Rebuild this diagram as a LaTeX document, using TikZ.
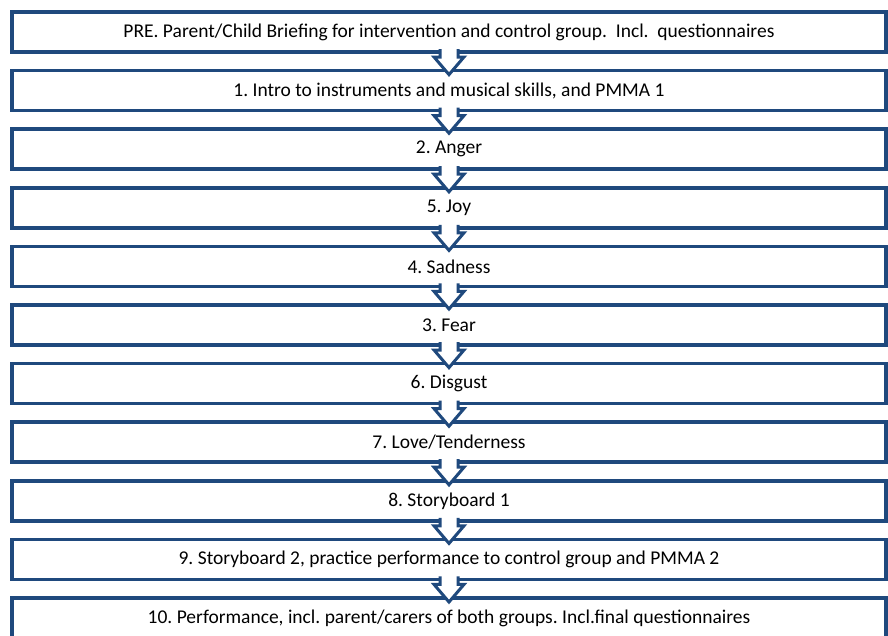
\documentclass[tikz,border=0pt]{standalone}
\usepackage{fontspec}
\setmainfont{Carlito}
\usetikzlibrary{calc}
\definecolor{boxblue}{RGB}{31,73,125}
\tikzset{
  stagebox/.style={draw=boxblue, line width=3.5pt, fill=white, minimum width=874pt, minimum height=40pt, inner sep=0pt, outer sep=0pt, font=\fontsize{19.5pt}{22pt}\selectfont\frenchspacing, text=black, anchor=north west},
  downarrow/.style={draw=boxblue, line width=3pt, fill=white, line join=miter}
}
\newcommand{\flowarrow}[2]{%
  \path[downarrow] ($(#1.south)+(-9,-3)$) -- ($(#1.south)+(-9,5)$) -- ($(#1.south)+(-15,5)$)
    -- ($(#2.north)+(0,4)$) -- ($(#1.south)+(15,5)$) -- ($(#1.south)+(9,5)$) -- ($(#1.south)+(9,-3)$);
}
\begin{document}
\begin{tikzpicture}[x=1pt,y=-1pt]
\useasboundingbox (0,0) rectangle (888,635);
\clip (0,0) rectangle (888,635);
\node[stagebox] (b0) at (12,12.0) {PRE. Parent/Child Briefing for intervention and control group.\ \ Incl.\ \ questionnaires};
\node[stagebox] (b1) at (12,70.6) {1. Intro to instruments and musical skills, and PMMA 1};
\node[stagebox] (b2) at (12,129.2) {2. Anger};
\node[stagebox] (b3) at (12,187.8) {5. Joy};
\node[stagebox] (b4) at (12,246.4) {4. Sadness};
\node[stagebox] (b5) at (12,305.0) {3. Fear};
\node[stagebox] (b6) at (12,363.6) {6. Disgust};
\node[stagebox] (b7) at (12,422.2) {7. Love/Tenderness};
\node[stagebox] (b8) at (12,480.8) {8. Storyboard 1};
\node[stagebox] (b9) at (12,539.4) {9. Storyboard 2, practice performance to control group and PMMA 2};
\node[stagebox] (b10) at (12,598.0) {10. Performance, incl. parent/carers of both groups. Incl.final questionnaires};
\flowarrow{b0}{b1}
\flowarrow{b1}{b2}
\flowarrow{b2}{b3}
\flowarrow{b3}{b4}
\flowarrow{b4}{b5}
\flowarrow{b5}{b6}
\flowarrow{b6}{b7}
\flowarrow{b7}{b8}
\flowarrow{b8}{b9}
\flowarrow{b9}{b10}
\end{tikzpicture}
\end{document}
